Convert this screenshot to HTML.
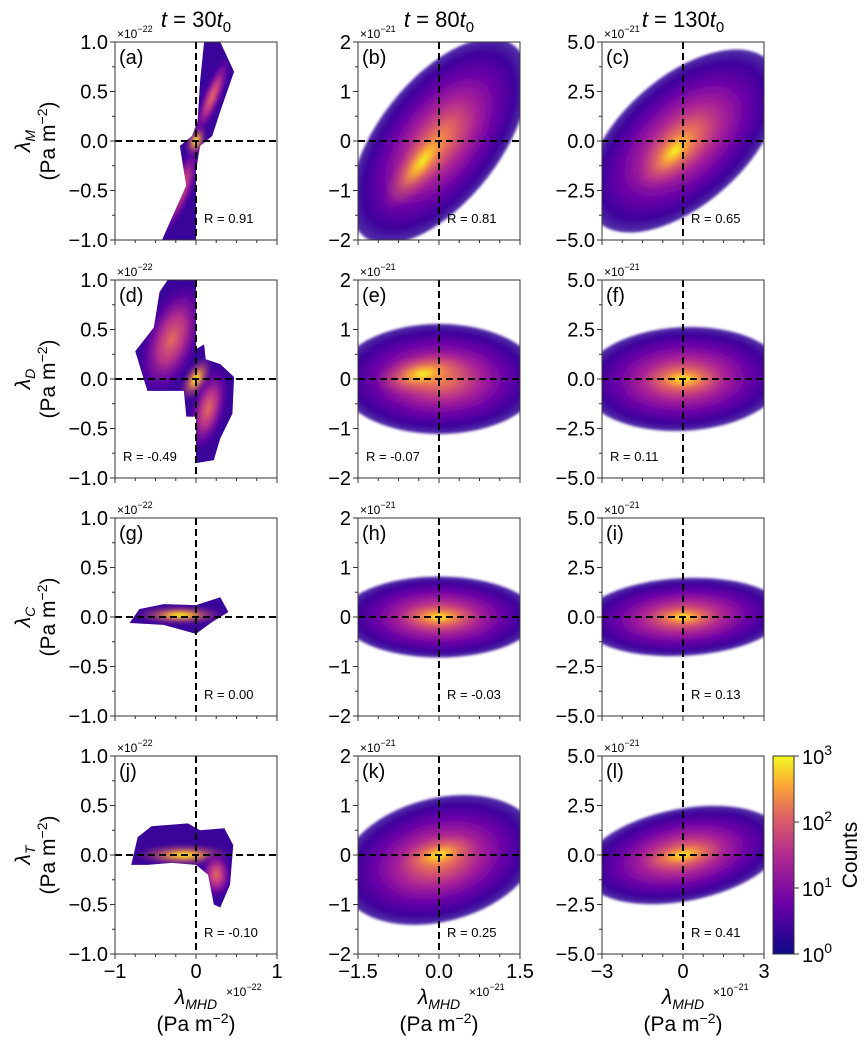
<!DOCTYPE html>
<html><head><meta charset="utf-8">
<style>
html,body{margin:0;padding:0;background:#fff;}
svg text{font-family:"Liberation Sans","DejaVu Sans",sans-serif;}
</style></head>
<body>
<svg id="fig" width="865" height="1039" viewBox="0 0 865 1039" xmlns="http://www.w3.org/2000/svg">
<defs>
<radialGradient id="hot">
<stop offset="0" stop-color="#f89540"/>
<stop offset="0.2" stop-color="#d8576b"/>
<stop offset="0.42" stop-color="#a62098"/>
<stop offset="0.65" stop-color="#6a00a8"/>
<stop offset="0.85" stop-color="#3e049c"/>
<stop offset="1" stop-color="#2a0593" stop-opacity="0.8"/>
</radialGradient>
<radialGradient id="core">
<stop offset="0" stop-color="#f0f921"/>
<stop offset="0.25" stop-color="#fdb42f" stop-opacity="0.9"/>
<stop offset="0.55" stop-color="#ed7953" stop-opacity="0.5"/>
<stop offset="1" stop-color="#cc4778" stop-opacity="0"/>
</radialGradient>
<radialGradient id="warm">
<stop offset="0" stop-color="#e66c5c"/>
<stop offset="0.4" stop-color="#b52f8c"/>
<stop offset="0.8" stop-color="#6a00a8" stop-opacity="0.6"/>
<stop offset="1" stop-color="#3b049a" stop-opacity="0"/>
</radialGradient>
<filter id="soft"><feGaussianBlur stdDeviation="1.2"/></filter>
<linearGradient id="cbar" x1="0" y1="1" x2="0" y2="0">
<stop offset="0" stop-color="#0d0887"/><stop offset="0.25" stop-color="#6a00a8"/>
<stop offset="0.5" stop-color="#b12a90"/><stop offset="0.7" stop-color="#e16462"/>
<stop offset="0.85" stop-color="#fca636"/><stop offset="1" stop-color="#f0f921"/>
</linearGradient>
</defs>
</svg>
<script>
// ---- data ----
const colTitleNums = ["30", "80", "130"];
const rowSymbols = ["M", "D", "C", "T"];
const panelLetters = ["a","b","c","d","e","f","g","h","i","j","k","l"];
const rValues = ["0.91","0.81","0.65","-0.49","-0.07","0.11","0.00","-0.03","0.13","-0.10","0.25","0.41"];
const rOnLeft = [false,false,false,true,true,true,false,false,false,false,false,false];
const yTickLabels = [["1.0","0.5","0.0","−0.5","−1.0"],["2","1","0","−1","−2"],["5.0","2.5","0.0","−2.5","−5.0"]];
const xTickLabels = [["−1","0","1"],["−1.5","0.0","1.5"],["−3","0","3"]];
const exponents = ["−22","−21","−21"];
const polyA = [[-0.42,-1],[-0.12,-0.45],[-0.2,-0.05],[-0.05,0.05],[0.02,0.2],[0.05,0.6],[0.1,1],[0.3,1],[0.47,0.7],[0.3,0.3],[0.2,0.05],[0.05,-0.05],[0,-0.3],[0,-1]];
const polyD = [[-0.35,1],[0,1],[0,0.3],[0.1,0.35],[0.12,0.2],[0.3,0.15],[0.47,0.02],[0.45,-0.35],[0.3,-0.6],[0.22,-0.82],[0,-0.85],[0,-0.38],[-0.12,-0.38],[-0.15,-0.12],[-0.6,-0.12],[-0.75,0.28],[-0.52,0.52],[-0.45,0.88]];
const polyG = [[-0.82,-0.06],[-0.7,0.08],[-0.4,0.13],[0,0.12],[0.3,0.2],[0.4,0.05],[0.2,-0.05],[0,-0.17],[-0.4,-0.08]];
const polyJ = [[-0.8,-0.1],[-0.72,0.18],[-0.55,0.29],[-0.1,0.32],[0.05,0.25],[0.35,0.27],[0.46,0.1],[0.42,-0.3],[0.3,-0.53],[0.22,-0.5],[0.15,-0.2],[0,-0.1],[-0.3,-0.08],[-0.6,-0.1]];
const polys = [polyA,null,null,polyD,null,null,polyG,null,null,polyJ,null,null];
// density blobs per panel: [cx, cy, rx, ry, rotation(deg), gradient]
const blobs = [
 [[0.2,0.45,0.55,0.12,-68,"warm"],[-0.2,-0.5,0.6,0.16,-68,"warm"],[0,0,0.2,0.12,-68,"core"]],
 [[0,0,1.5,0.75,-52,"hot"],[-0.2,-0.2,0.75,0.25,-52,"core"]],
 [[0,0,1.45,0.78,-42,"hot"],[-0.1,-0.1,0.6,0.28,-45,"core"]],
 [[-0.3,0.4,0.75,0.35,-70,"warm"],[0.15,-0.3,0.55,0.22,-75,"warm"],[0,0,0.3,0.15,-60,"core"]],
 [[0,0,1.25,0.68,0,"hot"],[-0.2,0.05,0.6,0.25,-10,"core"]],
 [[0,0,1.25,0.64,-3,"hot"],[0,0,0.5,0.2,0,"core"]],
 [[-0.2,0.02,0.55,0.12,0,"core"]],
 [[0,0,1.2,0.5,0,"hot"],[0,0,0.5,0.16,0,"core"]],
 [[0,0,1.25,0.48,-3,"hot"],[0,0,0.45,0.14,0,"core"]],
 [[-0.15,0,0.6,0.14,0,"core"],[0.25,-0.2,0.2,0.3,0,"warm"]],
 [[0,-0.05,1.25,0.76,-15,"hot"],[0,0,0.5,0.22,-15,"core"]],
 [[0,0,1.25,0.57,-11,"hot"],[0,0,0.5,0.17,-10,"core"]]
];
const cbarTicks = ["0","1","2","3"];

// ---- layout ----
const NS = "http://www.w3.org/2000/svg";
const svg = document.getElementById("fig");
const colX = [115, 358, 602], rowY = [42, 280, 518, 756], PW = 162, PH = 198;
function mk(tag, attrs, parent) {
  const e = document.createElementNS(NS, tag);
  for (const k in attrs) e.setAttribute(k, attrs[k]);
  (parent || svg).appendChild(e);
  return e;
}
function xScale(c, f) { return colX[c] + (f + 1) / 2 * PW; }
function yScale(r, f) { return rowY[r] + (1 - f) / 2 * PH; }

for (let c = 0; c < 3; c++) {
  const t = mk("text", {x: colX[c] + PW / 2, y: 27, "text-anchor": "middle", "font-size": 22});
  
  
  t.innerHTML = '<tspan font-style="italic">t</tspan> = ' + colTitleNums[c] + '<tspan font-style="italic">t</tspan><tspan font-size="15" dy="5">0</tspan>';
}
for (let r = 0; r < 4; r++) {
  const cy = rowY[r] + PH / 2;
  const g = mk("g", {transform: "translate(0," + cy + ") rotate(-90)"});
  
  
  const t1 = mk("text", {x: 0, y: 30, "text-anchor": "middle", "font-size": 21}, g);
  t1.innerHTML = '<tspan font-style="italic">λ</tspan><tspan font-size="14" font-style="italic" dy="5">' + rowSymbols[r] + '</tspan>';
  const t2 = mk("text", {x: 0, y: 55, "text-anchor": "middle", "font-size": 21}, g);
  t2.innerHTML = '(Pa m<tspan font-size="14" dy="-8">−2</tspan><tspan dy="8">)</tspan>';
}

for (let r = 0; r < 4; r++) for (let c = 0; c < 3; c++) {
  const i = r * 3 + c, x0 = colX[c], y0 = rowY[r];
  const pg = mk("g", {});
  
  
  const clipId = "clip" + i;
  const cp = mk("clipPath", {id: clipId}, pg);
  if (polys[i]) {
    mk("polygon", {points: polys[i].map(p => xScale(c, p[0]) + "," + yScale(r, p[1])).join(" ")}, cp);
  } else {
    mk("rect", {x: x0, y: y0, width: PW, height: PH}, cp);
  }
  const dg = mk("g", {"clip-path": "url(#" + clipId + ")"}, pg);
  
  
  if (polys[i]) {
    const bg = mk("rect", {x: x0, y: y0, width: PW, height: PH, fill: "#3a049a"}, dg);
    
    
  }
  blobs[i].forEach(b => {
    const cx = xScale(c, b[0]), cy = yScale(r, b[1]);
    const e = mk("ellipse", {cx: 0, cy: 0, rx: b[2] * PW / 2, ry: b[3] * PW / 2, fill: "url(#" + b[5] + ")",
      transform: "translate(" + cx + "," + cy + ") rotate(" + b[4] + ")", filter: "url(#soft)"}, dg);
    
    
  });
  const hz = mk("line", {x1: x0, x2: x0 + PW, y1: yScale(r, 0), y2: yScale(r, 0), stroke: "#000", "stroke-width": 2, "stroke-dasharray": "7,4"}, pg);
  
  
  const vz = mk("line", {x1: xScale(c, 0), x2: xScale(c, 0), y1: y0, y2: y0 + PH, stroke: "#000", "stroke-width": 2, "stroke-dasharray": "7,4"}, pg);
  
  
  const fr = mk("rect", {x: x0, y: y0, width: PW, height: PH, fill: "none", stroke: "#333", "stroke-width": 1}, pg);
  
  
  for (let k = 0; k < 5; k++) {
    const f = 1 - k * 0.5, y = yScale(r, f);
    mk("line", {x1: x0 - 5, x2: x0, y1: y, y2: y, stroke: "#333"}, pg);
    const t = mk("text", {x: x0 - 7, y: y + 7, "text-anchor": "end", "font-size": 20}, pg);
    
    
    t.textContent = yTickLabels[c][k];
    if (k < 4) { const ym = yScale(r, f - 0.25); mk("line", {x1: x0 - 3, x2: x0, y1: ym, y2: ym, stroke: "#333"}, pg); }
  }
  for (let k = 0; k <= 8; k++) {
    const f = -1 + k * 0.25, x = xScale(c, f);
    mk("line", {x1: x, x2: x, y1: y0 + PH, y2: y0 + PH + (k % 4 === 0 ? 5 : 3), stroke: "#333"}, pg);
  }
  if (r === 3) {
    for (let k = 0; k < 3; k++) {
      const t = mk("text", {x: xScale(c, -1 + k), y: y0 + PH + 24, "text-anchor": "middle", "font-size": 20}, pg);
      
      
      t.textContent = xTickLabels[c][k];
    }
  }
  const ot = mk("text", {x: x0 + 2, y: y0 - 4, "font-size": 12}, pg);
  
  
  ot.innerHTML = '×10<tspan font-size="9" dy="-6">' + exponents[c] + '</tspan>';
  const pl = mk("text", {x: x0 + 4, y: y0 + 22, "font-size": 20}, pg);
  
  
  pl.textContent = "(" + panelLetters[i] + ")";
  const rt = mk("text", {x: rOnLeft[i] ? x0 + 8 : xScale(c, 0) + 8, y: y0 + PH - 17, "font-size": 13}, pg);
  
  
  rt.textContent = "R = " + rValues[i];
}
for (let c = 0; c < 3; c++) {
  const cx = colX[c] + PW / 2;
  const t = mk("text", {x: cx, y: 1004, "text-anchor": "middle", "font-size": 21});
  
  
  t.innerHTML = '<tspan font-style="italic">λ</tspan><tspan font-size="14" font-style="italic" dy="5">MHD</tspan>';
  const ex = mk("text", {x: cx + 30, y: 996, "font-size": 12});
  
  
  ex.innerHTML = '×10<tspan font-size="9" dy="-6">' + exponents[c] + '</tspan>';
  const t2 = mk("text", {x: cx, y: 1031, "text-anchor": "middle", "font-size": 21});
  
  
  t2.innerHTML = '(Pa m<tspan font-size="14" dy="-8">−2</tspan><tspan dy="8">)</tspan>';
}
const cbX = 773, cbY = 756, cbW = 21, cbH = 198;
const cb = mk("rect", {x: cbX, y: cbY, width: cbW, height: cbH, fill: "url(#cbar)", stroke: "#333"});


cbarTicks.forEach((v, k) => {
  const y = cbY + cbH - k / (cbarTicks.length - 1) * cbH;
  mk("line", {x1: cbX + cbW, x2: cbX + cbW + 5, y1: y, y2: y, stroke: "#333"});
  const t = mk("text", {x: cbX + cbW + 8, y: y + 8, "font-size": 20});
  
  
  t.innerHTML = '10<tspan font-size="14" dy="-9">' + v + '</tspan>';
});
const cl = mk("text", {x: 0, y: 0, "font-size": 21, "text-anchor": "middle", transform: "translate(857," + (cbY + cbH / 2) + ") rotate(-90)"});


cl.textContent = "Counts";
</script>
</body></html>
